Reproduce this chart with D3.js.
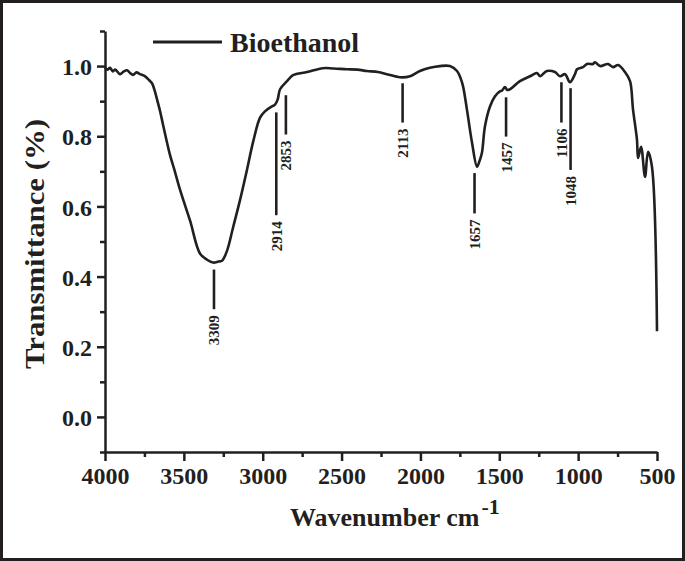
<!DOCTYPE html>
<html>
<head>
<meta charset="utf-8">
<script src="https://cdn.jsdelivr.net/npm/d3@7/dist/d3.min.js"></script>
<style>
    html, body { margin: 0; padding: 0; background: #fff; }
    svg { display: block; }
    text { font-family: "Liberation Serif", "Times New Roman", serif; font-weight: bold; fill: #231f20; }
</style>
</head>
<body>
<div id="chart"></div>
<script>
// FTIR spectrum (wavenumber cm-1, transmittance)
const wavenumber = [4000, 3985, 3968, 3950, 3935, 3905, 3880, 3861, 3840, 3822, 3800, 3778, 3750, 3727,
    3702, 3685, 3670, 3650, 3632, 3588, 3556, 3524, 3461, 3398, 3353, 3315, 3280, 3258, 3226, 3188,
    3144, 3100, 3062, 3017, 2986, 2941, 2922, 2905, 2890, 2846, 2808, 2719, 2618, 2550, 2466, 2400,
    2339, 2270, 2212, 2130, 2066, 2003, 1940, 1876, 1813, 1768, 1745, 1730, 1705, 1673, 1641, 1625,
    1610, 1591, 1559, 1527, 1496, 1483, 1464, 1450, 1432, 1369, 1305, 1261, 1242, 1198, 1147, 1115,
    1083, 1052, 1020, 1007, 969, 944, 906, 893, 861, 811, 779, 747, 703, 671, 652, 627, 620, 601,
    576, 557, 532, 500];
const transmittance = [0.995, 0.99, 0.995, 0.985, 0.99, 0.977, 0.985, 0.988, 0.98, 0.975, 0.982, 0.977, 0.972, 0.963,
    0.951, 0.93, 0.905, 0.87, 0.833, 0.747, 0.698, 0.647, 0.56, 0.466, 0.448, 0.44, 0.443, 0.445, 0.474, 0.54,
    0.618, 0.704, 0.782, 0.853, 0.871, 0.885, 0.89, 0.905, 0.934, 0.957, 0.974, 0.983, 0.994, 0.993, 0.991, 0.99,
    0.986, 0.983, 0.977, 0.968, 0.971, 0.986, 0.995, 1.0, 1.0, 0.986, 0.965, 0.943, 0.876, 0.782, 0.713, 0.73,
    0.753, 0.828, 0.885, 0.914, 0.928, 0.93, 0.94, 0.932, 0.934, 0.957, 0.971, 0.98, 0.971, 0.986, 0.983, 0.971,
    0.977, 0.954, 0.977, 0.991, 0.997, 1.006, 1.006, 1.011, 1.0, 1.006, 0.997, 1.003, 0.983, 0.957, 0.876, 0.79, 0.738, 0.77,
    0.684, 0.756, 0.713, 0.244];

// peak markers: label, wavenumber of the marker, marker top / bottom in transmittance units
const peakLabels = ["3309", "2914", "2853", "2113", "1657", "1457", "1106", "1048"];
const peakPositions = [3309, 2914, 2853, 2113, 1657, 1457, 1106, 1048];
const markerTop = [0.42, 0.868, 0.917, 0.951, 0.695, 0.911, 0.954, 0.937];
const markerBottom = [0.307, 0.575, 0.805, 0.839, 0.58, 0.799, 0.839, 0.704];

const xTicks = [4000, 3500, 3000, 2500, 2000, 1500, 1000, 500];
const xMinorTicks = [3750, 3250, 2750, 2250, 1750, 1250, 750];
const yTicks = [0.0, 0.2, 0.4, 0.6, 0.8, 1.0];
const yMinorTicks = [-0.1, 0.1, 0.3, 0.5, 0.7, 0.9, 1.1];

const seriesName = "Bioethanol";
const xLabel = "Wavenumber cm";
const yLabel = "Transmittance (%)";

const width = 685, height = 561;
const margin = { left: 105, right: 28, top: 31, bottom: 109 };
const ink = "#231f20";

const svg = d3.select("#chart").append("svg")
    .attr("width", width)
    .attr("height", height);

svg.append("rect")
    .attr("x", 1.5).attr("y", 1.5)
    .attr("width", width - 3).attr("height", height - 3)
    .attr("fill", "#fff")
    .attr("stroke", ink)
    .attr("stroke-width", 3);

const xScale = d3.scaleLinear()
    .domain([4000, 500])
    .range([margin.left, width - margin.right]);

const yScale = d3.scaleLinear()
    .domain([-0.1, 1.1])
    .range([height - margin.bottom, margin.top]);

// minor ticks first, then the labelled axes on top
svg.append("g")
    .attr("transform", "translate(0," + yScale(-0.1) + ")")
    .call(d3.axisBottom(xScale).tickValues(xMinorTicks).tickSize(5).tickFormat(""))
    .call(g => g.select(".domain").remove())
    .call(g => g.selectAll("line").attr("stroke", ink).attr("stroke-width", 2.5));

svg.append("g")
    .attr("transform", "translate(" + xScale(4000) + ",0)")
    .call(d3.axisLeft(yScale).tickValues(yMinorTicks).tickSize(5).tickFormat(""))
    .call(g => g.select(".domain").remove())
    .call(g => g.selectAll("line").attr("stroke", ink).attr("stroke-width", 2.5));

const xAxis = svg.append("g")
    .attr("transform", "translate(0," + yScale(-0.1) + ")")
    .call(d3.axisBottom(xScale).tickValues(xTicks).tickSize(9).tickSizeOuter(0).tickPadding(6)
        .tickFormat(d3.format("d")));

const yAxis = svg.append("g")
    .attr("transform", "translate(" + xScale(4000) + ",0)")
    .call(d3.axisLeft(yScale).tickValues(yTicks).tickSize(8).tickSizeOuter(0).tickPadding(5)
        .tickFormat(d3.format(".1f")));

[xAxis, yAxis].forEach(a => {
    a.select(".domain").attr("stroke", ink).attr("stroke-width", 2.5);
    a.selectAll(".tick line").attr("stroke", ink).attr("stroke-width", 2.5);
    a.selectAll(".tick text")
        .style("font-family", "'Liberation Serif', 'Times New Roman', serif")
        .style("font-weight", "bold")
        .style("font-size", "24px")
        .attr("fill", ink);
});
yAxis.selectAll(".tick text").attr("dy", "0.36em");

// spectrum
const points = wavenumber.map((w, i) => [w, transmittance[i]]);
const line = d3.line()
    .x(d => xScale(d[0]))
    .y(d => yScale(d[1]))
    .curve(d3.curveCatmullRom.alpha(0.5));

svg.append("path")
    .datum(points)
    .attr("fill", "none")
    .attr("stroke", ink)
    .attr("stroke-width", 2.6)
    .attr("stroke-linejoin", "round")
    .attr("d", line);

// peak markers and labels
const peaks = svg.append("g").attr("class", "peaks");
peakLabels.forEach((label, i) => {
    const x = xScale(peakPositions[i]);
    peaks.append("line")
        .attr("x1", x).attr("x2", x)
        .attr("y1", yScale(markerTop[i]))
        .attr("y2", yScale(markerBottom[i]))
        .attr("stroke", ink)
        .attr("stroke-width", 2.6);
    peaks.append("text")
        .attr("transform", "translate(" + (x + 5.5) + "," + (yScale(markerBottom[i]) + 6) + ") rotate(-90)")
        .style("text-anchor", "end")
        .style("font-size", "15px")
        .text(label);
});

// legend
svg.append("line")
    .attr("x1", 153).attr("x2", 222)
    .attr("y1", 42).attr("y2", 42)
    .attr("stroke", ink)
    .attr("stroke-width", 3);
svg.append("text")
    .attr("x", 230).attr("y", 52)
    .style("font-size", "28px")
    .text(seriesName);

// axis titles
const xTitle = svg.append("text")
    .attr("x", 290).attr("y", 526)
    .style("font-size", "26px")
    .text(xLabel);
xTitle.append("tspan")
    .attr("dx", 2)
    .attr("dy", -12)
    .style("font-size", "22px")
    .text("-1");

svg.append("text")
    .attr("transform", "translate(44," + 244 + ") rotate(-90)")
    .style("text-anchor", "middle")
    .style("font-size", "27px")
    .attr("textLength", 250)
    .attr("lengthAdjust", "spacingAndGlyphs")
    .text(yLabel);
</script>
</body>
</html>
